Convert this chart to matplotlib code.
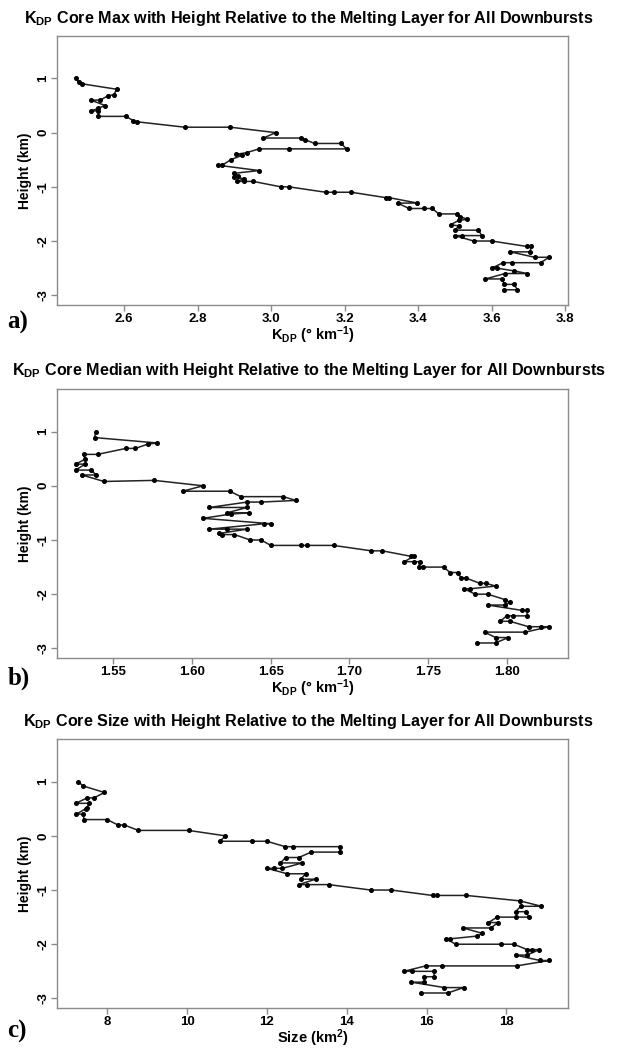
import matplotlib
matplotlib.use("Agg")
import matplotlib.pyplot as plt

plt.rcParams['font.family'] = 'Liberation Sans'
plt.rcParams['font.weight'] = 'bold'
plt.rcParams['mathtext.fontset'] = 'custom'
plt.rcParams['mathtext.rm'] = 'Liberation Sans:bold'
plt.rcParams['mathtext.bf'] = 'Liberation Sans:bold'
plt.rcParams['mathtext.it'] = 'Liberation Sans:bold'

# panel a: KDP core max
max_kdp = [2.468, 2.476, 2.486, 2.580, 2.572, 2.556, 2.535, 2.510, 2.548, 2.530,
           2.510, 2.530, 2.530, 2.605, 2.625, 2.635, 2.765, 2.889, 3.012, 2.979,
           3.080, 3.092, 3.118, 3.190, 3.205, 3.048, 2.967, 2.933, 2.905, 2.920,
           2.890, 2.867, 2.854, 2.967, 2.900, 2.910, 2.900, 2.925, 2.908, 2.926,
           2.951, 3.026, 3.048, 3.148, 3.172, 3.218, 3.312, 3.321, 3.398, 3.344,
           3.375, 3.416, 3.438, 3.456, 3.506, 3.515, 3.533, 3.510, 3.488, 3.510,
           3.501, 3.564, 3.573, 3.519, 3.499, 3.551, 3.600, 3.695, 3.708, 3.704,
           3.650, 3.717, 3.756, 3.733, 3.656, 3.631, 3.600, 3.613, 3.660, 3.697,
           3.636, 3.583, 3.629, 3.634, 3.661, 3.670, 3.634]
max_hgt = [1.0, 0.93, 0.9, 0.8, 0.7, 0.68, 0.6, 0.6, 0.5, 0.45,
           0.4, 0.4, 0.3, 0.3, 0.22, 0.2, 0.1, 0.1, 0.0, -0.1,
           -0.1, -0.13, -0.2, -0.2, -0.3, -0.3, -0.3, -0.37, -0.4, -0.42,
           -0.5, -0.6, -0.6, -0.7, -0.75, -0.8, -0.82, -0.85, -0.9, -0.9,
           -0.9, -1.0, -1.0, -1.1, -1.1, -1.1, -1.2, -1.2, -1.3, -1.3,
           -1.4, -1.4, -1.4, -1.5, -1.5, -1.55, -1.6, -1.62, -1.7, -1.72,
           -1.8, -1.8, -1.9, -1.9, -1.9, -2.0, -2.0, -2.1, -2.1, -2.2,
           -2.2, -2.3, -2.3, -2.4, -2.4, -2.4, -2.5, -2.5, -2.55, -2.6,
           -2.6, -2.7, -2.7, -2.8, -2.8, -2.9, -2.9]

# panel b: KDP core median
med_kdp = [1.539, 1.538, 1.578, 1.572, 1.564, 1.558, 1.540, 1.531, 1.532, 1.526,
           1.532, 1.526, 1.536, 1.539, 1.530, 1.544, 1.576, 1.607, 1.594, 1.624,
           1.631, 1.658, 1.666, 1.644, 1.635, 1.611, 1.635, 1.622, 1.636, 1.625,
           1.607, 1.650, 1.646, 1.611, 1.622, 1.635, 1.617, 1.619, 1.627, 1.637,
           1.644, 1.650, 1.669, 1.673, 1.690, 1.714, 1.721, 1.739, 1.741, 1.735,
           1.741, 1.745, 1.744, 1.747, 1.760, 1.764, 1.769, 1.771, 1.774, 1.783,
           1.787, 1.793, 1.777, 1.773, 1.780, 1.788, 1.799, 1.802, 1.799, 1.788,
           1.810, 1.813, 1.813, 1.804, 1.800, 1.796, 1.802, 1.814, 1.822, 1.827,
           1.812, 1.786, 1.793, 1.801, 1.793, 1.781]
med_hgt = [1.0, 0.89, 0.79, 0.77, 0.69, 0.69, 0.58, 0.58, 0.49, 0.4,
           0.4, 0.29, 0.29, 0.2, 0.2, 0.08, 0.1, 0.0, -0.1, -0.1,
           -0.2, -0.2, -0.27, -0.3, -0.3, -0.4, -0.4, -0.5, -0.5, -0.52,
           -0.6, -0.7, -0.7, -0.8, -0.8, -0.8, -0.88, -0.9, -0.9, -1.0,
           -1.0, -1.1, -1.1, -1.1, -1.1, -1.2, -1.2, -1.3, -1.3, -1.4,
           -1.4, -1.4, -1.5, -1.5, -1.5, -1.6, -1.6, -1.7, -1.7, -1.8,
           -1.8, -1.85, -1.9, -1.9, -2.0, -2.0, -2.1, -2.15, -2.2, -2.2,
           -2.3, -2.3, -2.4, -2.4, -2.4, -2.5, -2.5, -2.6, -2.6, -2.6,
           -2.7, -2.7, -2.8, -2.8, -2.9, -2.9]

# panel c: KDP core size
size_km2 = [7.27, 7.40, 7.93, 7.67, 7.50, 7.21, 7.54, 7.50, 7.46, 7.23,
            7.40, 7.42, 8.00, 8.27, 8.43, 8.78, 10.04, 10.96, 10.83, 11.63,
            12.00, 12.46, 12.65, 13.83, 13.83, 13.11, 12.80, 12.47, 12.34, 12.89,
            12.39, 12.18, 12.01, 12.51, 12.97, 12.85, 13.22, 12.80, 13.01, 13.55,
            14.60, 15.12, 16.15, 16.27, 17.00, 18.34, 18.88, 18.36, 18.23, 18.48,
            18.57, 18.23, 17.77, 17.55, 17.79, 17.61, 16.92, 17.40, 17.26, 16.60,
            16.49, 16.73, 17.86, 18.19, 18.52, 18.65, 18.82, 18.52, 18.23, 18.84,
            19.07, 18.26, 16.40, 15.98, 15.43, 15.64, 16.19, 16.19, 15.94, 15.94,
            15.62, 16.45, 16.93, 16.53, 15.86]
size_hgt = [1.0, 0.92, 0.8, 0.7, 0.7, 0.6, 0.6, 0.52, 0.5, 0.4,
            0.4, 0.3, 0.3, 0.2, 0.2, 0.1, 0.1, 0.0, -0.1, -0.1,
            -0.1, -0.2, -0.2, -0.2, -0.3, -0.3, -0.4, -0.4, -0.5, -0.5,
            -0.6, -0.6, -0.6, -0.7, -0.7, -0.8, -0.8, -0.9, -0.9, -0.9,
            -1.0, -1.0, -1.1, -1.1, -1.1, -1.2, -1.3, -1.3, -1.4, -1.4,
            -1.5, -1.5, -1.5, -1.6, -1.6, -1.7, -1.7, -1.8, -1.85, -1.9,
            -1.9, -2.0, -2.0, -2.0, -2.1, -2.1, -2.1, -2.2, -2.2, -2.3,
            -2.3, -2.4, -2.4, -2.4, -2.5, -2.5, -2.5, -2.6, -2.6, -2.7,
            -2.7, -2.8, -2.8, -2.9, -2.9]

titles = [r"K$_{\mathbf{DP}}$ Core Max with Height Relative to the Melting Layer for All Downbursts",
          r"K$_{\mathbf{DP}}$ Core Median with Height Relative to the Melting Layer for All Downbursts",
          r"K$_{\mathbf{DP}}$ Core Size with Height Relative to the Melting Layer for All Downbursts"]
xlabels = [r"K$_{\mathbf{DP}}$ (° km$^{-1}$)", r"K$_{\mathbf{DP}}$ (° km$^{-1}$)", r"Size (km$^{2}$)"]
xticks = [[2.6, 2.8, 3.0, 3.2, 3.4, 3.6, 3.8],
          [1.55, 1.60, 1.65, 1.70, 1.75, 1.80],
          [8, 10, 12, 14, 16, 18]]
xticklabels = [["2.6", "2.8", "3.0", "3.2", "3.4", "3.6", "3.8"],
               ["1.55", "1.60", "1.65", "1.70", "1.75", "1.80"],
               ["8", "10", "12", "14", "16", "18"]]
panel_tags = ["a)", "b)", "c)"]
yticks = [-3, -2, -1, 0, 1]

xs = [max_kdp, med_kdp, size_km2]
ys = [max_hgt, med_hgt, size_hgt]

fig = plt.figure(figsize=(6.17, 10.48), dpi=100)
bottoms = [0.709, 0.372, 0.038]
H = 0.2565
tag_y = [0.686, 0.347, 0.010]
title_y = [0.982, 0.646, 0.312]

for i in range(3):
    ax = fig.add_axes([0.0919, bottoms[i], 0.8287, H])
    x, y = xs[i], ys[i]
    ax.plot(x, y, color='#222222', lw=1.1, marker='o', ms=2.6, mfc='black', mec='black')
    pad = (max(x) - min(x)) * 0.04
    ax.set_xlim(min(x) - pad, max(x) + pad)
    ax.set_ylim(-3.18, 1.78)
    ax.set_xticks(xticks[i])
    ax.set_xticklabels(xticklabels[i], fontsize=9.5, fontweight='bold')
    ax.set_yticks(yticks)
    ax.set_yticklabels([str(v) for v in yticks], fontsize=9.5, fontweight='bold',
                       rotation=90, va='center')
    for s in ax.spines.values():
        s.set_color('#8a8a8a')
        s.set_linewidth(1.0)
    ax.tick_params(direction='out', length=4, width=1, color='#8a8a8a', pad=1.5)
    ax.set_xlabel(xlabels[i], fontsize=10.5, fontweight='bold', labelpad=0)
    ax.set_ylabel("Height (km)", fontsize=10, fontweight='bold', labelpad=4)
    fig.text(0.5, title_y[i], titles[i], ha='center', va='center', fontsize=11.6, fontweight='bold')
    fig.text(0.012, tag_y[i], panel_tags[i], fontsize=18, fontweight='bold', family='Liberation Serif')

fig.savefig("out.png", dpi=100)
